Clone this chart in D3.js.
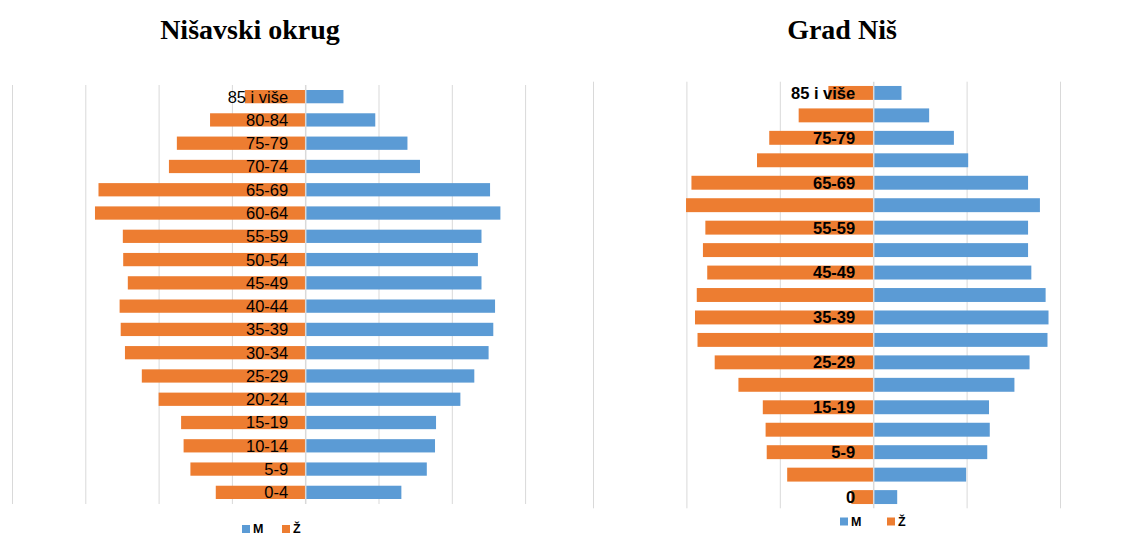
<!DOCTYPE html>
<html>
<head>
<meta charset="utf-8">
<script src="https://cdn.jsdelivr.net/npm/d3@7/dist/d3.min.js"></script>
<style>
  html, body { margin: 0; padding: 0; background: #fff; }
  svg { display: block; }
</style>
</head>
<body>
<svg id="chart" width="1141" height="536"></svg>
<script>
// Nišavski okrug (left pyramid)
const okrugGroups = ["0-4", "5-9", "10-14", "15-19", "20-24", "25-29", "30-34", "35-39", "40-44",
  "45-49", "50-54", "55-59", "60-64", "65-69", "70-74", "75-79", "80-84", "85 i više"];
const okrugMen = [6560, 8295, 8855, 8925, 10585, 11535, 12510, 12830, 12950,
  12025, 11780, 12025, 13315, 12610, 7830, 6975, 4780, 2610];
const okrugWomen = [6100, 7830, 8295, 8465, 10000, 11145, 12295, 12585, 12660,
  12100, 12415, 12440, 14340, 14100, 9295, 8755, 6490, 4120];
const okrugTicks = [-20000, -15000, -10000, -5000, 0, 5000, 10000, 15000];

// Grad Niš (right pyramid)
const nisGroups = ["0", "1-4", "5-9", "10-14", "15-19", "20-24", "25-29", "30-34", "35-39", "40-44",
  "45-49", "50-54", "55-59", "60-64", "65-69", "70-74", "75-79", "80-84", "85 i više"];
const nisMen = [1285, 4975, 6105, 6240, 6200, 7560, 8370, 9330, 9385, 9230,
  8465, 8290, 8290, 8925, 8290, 5085, 4320, 2995, 1515];
const nisWomen = [1170, 4605, 5700, 5760, 5910, 7215, 8485, 9405, 9540, 9445,
  8885, 9115, 8985, 10020, 9730, 6220, 5565, 3990, 2400];
const nisTicks = [-15000, -10000, -5000, 0, 5000, 10000];

const seriesNames = ["M", "Ž"];
const colorM = "#5b9bd5";
const colorZ = "#ed7d31";

const svg = d3.select("#chart");

function drawPyramid(cfg) {
  const g = svg.append("g");

  const x = d3.scaleLinear()
    .domain([cfg.ticks[0], cfg.ticks[cfg.ticks.length - 1]])
    .range([cfg.left, cfg.right]);

  const y = d3.scaleBand()
    .domain(cfg.groups)
    .range([cfg.bottom, cfg.top])
    .paddingInner(cfg.pad)
    .paddingOuter(cfg.pad / 2);

  // gridlines
  g.append("g")
    .selectAll("line")
    .data(cfg.ticks.filter(d => d !== 0))
    .join("line")
    .attr("x1", d => x(d) + 0.5)
    .attr("x2", d => x(d) + 0.5)
    .attr("y1", cfg.top)
    .attr("y2", cfg.bottom)
    .attr("stroke", "#d9d9d9")
    .attr("stroke-width", 1);

  // women to the left
  g.append("g")
    .selectAll("rect")
    .data(cfg.women)
    .join("rect")
    .attr("x", d => x(-d))
    .attr("y", (d, i) => y(cfg.groups[i]))
    .attr("width", d => x(0) - x(-d))
    .attr("height", y.bandwidth())
    .attr("fill", colorZ);

  // men to the right
  g.append("g")
    .selectAll("rect")
    .data(cfg.men)
    .join("rect")
    .attr("x", x(0))
    .attr("y", (d, i) => y(cfg.groups[i]))
    .attr("width", d => x(d) - x(0))
    .attr("height", y.bandwidth())
    .attr("fill", colorM);

  // centre axis line
  g.append("line")
    .attr("x1", x(0) + 0.5)
    .attr("x2", x(0) + 0.5)
    .attr("y1", cfg.top)
    .attr("y2", cfg.bottom)
    .attr("stroke", "#d9d9d9")
    .attr("stroke-width", 1.5);

  // category labels
  g.append("g")
    .selectAll("text")
    .data(cfg.groups.filter((d, i) => i % cfg.labelStep === 0))
    .join("text")
    .attr("x", x(0) - cfg.labelGap)
    .attr("y", d => y(d) + y.bandwidth() / 2)
    .attr("dy", "0.36em")
    .attr("text-anchor", "end")
    .style("font-family", "'Liberation Sans', Arial, sans-serif")
    .style("font-size", cfg.labelSize)
    .style("font-weight", cfg.labelWeight)
    .attr("fill", "#000")
    .text(d => d);

  // title
  g.append("text")
    .attr("x", cfg.titleX)
    .attr("y", 39)
    .attr("text-anchor", "middle")
    .style("font-family", "'Liberation Serif', 'Times New Roman', serif")
    .style("font-size", "28px")
    .style("font-weight", "bold")
    .attr("fill", "#000")
    .text(cfg.title);

  // legend
  const legend = g.append("g")
    .attr("transform", `translate(${cfg.legendX},${cfg.legendY})`);
  const item = legend.selectAll("g")
    .data(seriesNames)
    .join("g")
    .attr("transform", (d, i) => `translate(${i * cfg.legendStep},0)`);
  item.append("rect")
    .attr("x", 0)
    .attr("y", -8)
    .attr("width", 8)
    .attr("height", 8)
    .attr("fill", (d, i) => i === 0 ? colorM : colorZ);
  item.append("text")
    .attr("x", 11)
    .attr("y", 0)
    .style("font-family", "'Liberation Sans', Arial, sans-serif")
    .style("font-size", "12.5px")
    .style("font-weight", "bold")
    .attr("fill", "#000")
    .text(d => d);
}

drawPyramid({
  title: "Nišavski okrug",
  titleX: 250,
  groups: okrugGroups,
  men: okrugMen,
  women: okrugWomen,
  ticks: okrugTicks,
  left: 12, right: 525.1,
  top: 85, bottom: 504,
  pad: 0.43,
  labelStep: 1,
  labelGap: 17,
  labelSize: "16.5px",
  labelWeight: "normal",
  legendX: 242, legendY: 533, legendStep: 40
});

drawPyramid({
  title: "Grad Niš",
  titleX: 842,
  groups: nisGroups,
  men: nisMen,
  women: nisWomen,
  ticks: nisTicks,
  left: 593, right: 1060,
  top: 81.7, bottom: 508.3,
  pad: 0.38,
  labelStep: 2,
  labelGap: 18,
  labelSize: "16.5px",
  labelWeight: "bold",
  legendX: 840, legendY: 525.5, legendStep: 47
});
</script>
</body>
</html>
